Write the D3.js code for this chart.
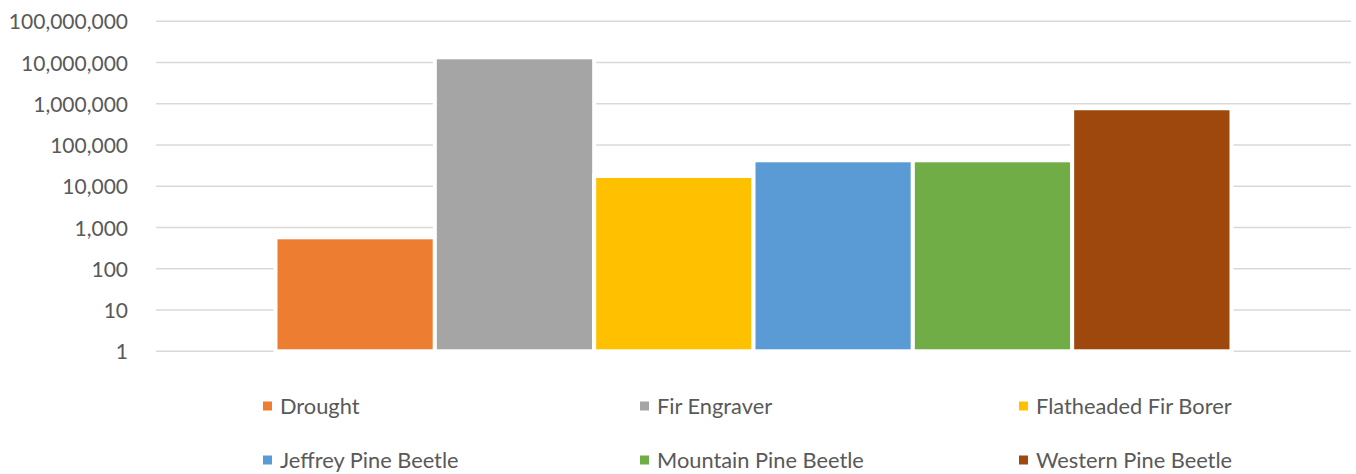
<!DOCTYPE html>
<html>
<head>
<meta charset="utf-8">
<script src="https://cdn.jsdelivr.net/npm/d3@7"></script>
<style>
  html, body { margin: 0; padding: 0; background: #ffffff; }
  svg { display: block; }
  text { font-family: Lato, "Open Sans", "Liberation Sans", sans-serif; fill: #595959; }
</style>
</head>
<body>
<svg id="chart" width="1356" height="474"></svg>
<script>
// Trees killed, by cause (log scale)
const categories = ["Total"];
const seriesNames = [
  "Drought",
  "Fir Engraver",
  "Flatheaded Fir Borer",
  "Jeffrey Pine Beetle",
  "Mountain Pine Beetle",
  "Western Pine Beetle"
];
const seriesValues = [580, 13400000, 17800, 42700, 42700, 780000];
const seriesColors = ["#ED7D31", "#A5A5A5", "#FFC000", "#5B9BD5", "#70AD47", "#9E480E"];
const tickValues = [1, 10, 100, 1000, 10000, 100000, 1000000, 10000000, 100000000];

const svg = d3.select("#chart");
const plot = { left: 156, right: 1351, top: 21.3, bottom: 351.3 };

const y = d3.scaleLog()
  .domain([1, 100000000])
  .range([plot.bottom, plot.top]);

const x0 = d3.scaleBand()
  .domain(categories)
  .range([plot.left, plot.right])
  .paddingInner(0)
  .paddingOuter(0.125);

const x1 = d3.scaleBand()
  .domain(seriesNames)
  .range([0, x0.bandwidth()])
  .padding(0);

const color = d3.scaleOrdinal().domain(seriesNames).range(seriesColors);

// gridlines
svg.append("g")
  .selectAll("line")
  .data(tickValues)
  .join("line")
  .attr("x1", plot.left)
  .attr("x2", plot.right)
  .attr("y1", d => y(d))
  .attr("y2", d => y(d))
  .attr("stroke", "#d9d9d9")
  .attr("stroke-width", 1.4);

// y axis labels
const fmt = d3.format(",");
const yAxis = d3.axisLeft(y)
  .tickValues(tickValues)
  .tickFormat(d => fmt(d))
  .tickSize(0)
  .tickPadding(0);

const gy = svg.append("g")
  .attr("transform", "translate(128,0)")
  .call(yAxis);
gy.select(".domain").remove();
gy.selectAll("text")
  .attr("font-size", 21)
  .attr("font-family", "Lato, 'Open Sans', sans-serif")
  .attr("fill", "#595959")
  .attr("dy", "0.36em");

// bars
const data = seriesNames.map((name, i) => ({ category: categories[0], name, value: seriesValues[i] }));

svg.append("g")
  .selectAll("rect")
  .data(data)
  .join("rect")
  .attr("x", d => x0(d.category) + x1(d.name))
  .attr("width", x1.bandwidth())
  .attr("y", d => y(d.value))
  .attr("height", d => y(1) - y(d.value))
  .attr("fill", d => color(d.name))
  .attr("stroke", "#ffffff")
  .attr("stroke-width", 4);

// legend: three columns, two rows
const legendCols = [263, 640, 1019];
const legendRows = [406, 460];
const legend = svg.append("g")
  .selectAll("g")
  .data(seriesNames)
  .join("g")
  .attr("transform", (d, i) => `translate(${legendCols[i % 3]},${legendRows[Math.floor(i / 3)]})`);

legend.append("rect")
  .attr("x", 0)
  .attr("y", -4.5)
  .attr("width", 9)
  .attr("height", 9)
  .attr("fill", d => color(d));

legend.append("text")
  .attr("x", 17)
  .attr("y", 0)
  .attr("dy", "0.36em")
  .attr("font-size", 21.8)
  .text(d => d);
</script>
</body>
</html>
